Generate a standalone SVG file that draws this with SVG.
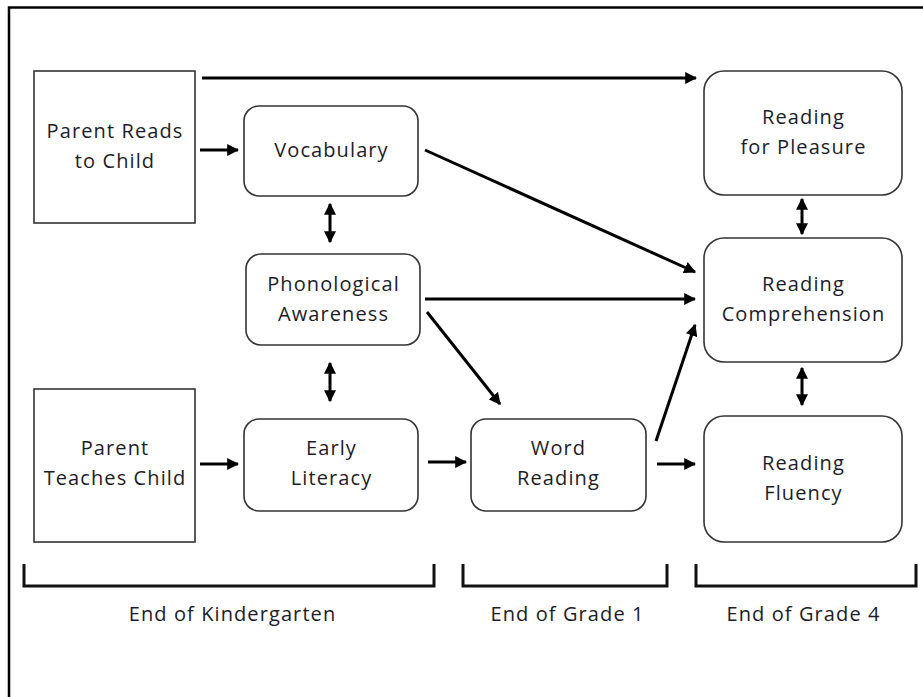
<svg xmlns="http://www.w3.org/2000/svg" width="923" height="697" viewBox="0 0 923 697">
  <style>
    .box { fill: #fff; stroke: #333; stroke-width: 1.6; }
    .lbl { font-family: "Open Sans", "Liberation Sans", sans-serif; font-size: 20px; letter-spacing: 1.1px; fill: #1c1c28; text-anchor: middle; }
    .con { stroke: #000; stroke-width: 3; fill: none; }
    .brk { stroke: #111; stroke-width: 3; fill: none; }
  </style>
  <defs>
    <marker id="ah" viewBox="0 0 10 10" refX="9" refY="5" markerWidth="4" markerHeight="4" orient="auto-start-reverse" markerUnits="strokeWidth">
      <path d="M0,0 L10,5 L0,10 z" fill="#000"/>
    </marker>
  </defs>
  <rect width="923" height="697" fill="#fff"/>
  <!-- frame: top and left edges only -->
  <path d="M923,7.5 H9 V697" fill="none" stroke="#000" stroke-width="2.5"/>

  <g id="parent-reads">
    <rect class="box" x="34" y="71" width="161" height="152"/>
    <text class="lbl" x="115" y="138">Parent Reads</text>
    <text class="lbl" x="115" y="168">to Child</text>
  </g>
  <g id="vocabulary">
    <rect class="box" x="244" y="106" width="174" height="90" rx="15"/>
    <text class="lbl" x="331.5" y="157">Vocabulary</text>
  </g>
  <g id="phonological">
    <rect class="box" x="246" y="254" width="174" height="91" rx="15"/>
    <text class="lbl" x="333.5" y="291">Phonological</text>
    <text class="lbl" x="333.5" y="321">Awareness</text>
  </g>
  <g id="parent-teaches">
    <rect class="box" x="34" y="389" width="161" height="153"/>
    <text class="lbl" x="115" y="455">Parent</text>
    <text class="lbl" x="115" y="485">Teaches Child</text>
  </g>
  <g id="early-literacy">
    <rect class="box" x="244" y="419" width="174" height="92" rx="15"/>
    <text class="lbl" x="331.5" y="455">Early</text>
    <text class="lbl" x="331.5" y="485">Literacy</text>
  </g>
  <g id="word-reading">
    <rect class="box" x="471" y="419" width="175" height="92" rx="15"/>
    <text class="lbl" x="558.5" y="455">Word</text>
    <text class="lbl" x="558.5" y="485">Reading</text>
  </g>
  <g id="reading-pleasure">
    <rect class="box" x="704" y="71" width="198" height="124" rx="20"/>
    <text class="lbl" x="803.5" y="124">Reading</text>
    <text class="lbl" x="803.5" y="154">for Pleasure</text>
  </g>
  <g id="reading-comprehension">
    <rect class="box" x="704" y="238" width="198" height="124" rx="20"/>
    <text class="lbl" x="803.5" y="291">Reading</text>
    <text class="lbl" x="803.5" y="321">Comprehension</text>
  </g>
  <g id="reading-fluency">
    <rect class="box" x="704" y="416" width="198" height="126" rx="20"/>
    <text class="lbl" x="803.5" y="470">Reading</text>
    <text class="lbl" x="803.5" y="500">Fluency</text>
  </g>

  <g id="connectors">
    <line class="con" x1="202" y1="78" x2="696" y2="78" marker-end="url(#ah)"/>
    <line class="con" x1="200" y1="150" x2="238" y2="150" marker-end="url(#ah)"/>
    <line class="con" x1="330" y1="204" x2="330" y2="242" marker-start="url(#ah)" marker-end="url(#ah)"/>
    <line class="con" x1="330" y1="363" x2="330" y2="401" marker-start="url(#ah)" marker-end="url(#ah)"/>
    <line class="con" x1="425" y1="150" x2="695" y2="272" marker-end="url(#ah)"/>
    <line class="con" x1="425" y1="299" x2="695" y2="299" marker-end="url(#ah)"/>
    <line class="con" x1="427" y1="312" x2="500" y2="404" marker-end="url(#ah)"/>
    <line class="con" x1="656" y1="441" x2="695" y2="325" marker-end="url(#ah)"/>
    <line class="con" x1="200" y1="464" x2="238" y2="464" marker-end="url(#ah)"/>
    <line class="con" x1="428" y1="462" x2="466" y2="462" marker-end="url(#ah)"/>
    <line class="con" x1="657" y1="464" x2="695" y2="464" marker-end="url(#ah)"/>
    <line class="con" x1="802" y1="199" x2="802" y2="234" marker-start="url(#ah)" marker-end="url(#ah)"/>
    <line class="con" x1="802" y1="368" x2="802" y2="405" marker-start="url(#ah)" marker-end="url(#ah)"/>
  </g>

  <g id="timeline">
    <path class="brk" d="M24,564 V586 H434 V564"/>
    <path class="brk" d="M463,564 V586 H667 V564"/>
    <path class="brk" d="M696,564 V586 H916 V564"/>
    <text class="lbl" x="232.5" y="621">End of Kindergarten</text>
    <text class="lbl" x="567.5" y="621">End of Grade 1</text>
    <text class="lbl" x="803.5" y="621">End of Grade 4</text>
  </g>
</svg>
